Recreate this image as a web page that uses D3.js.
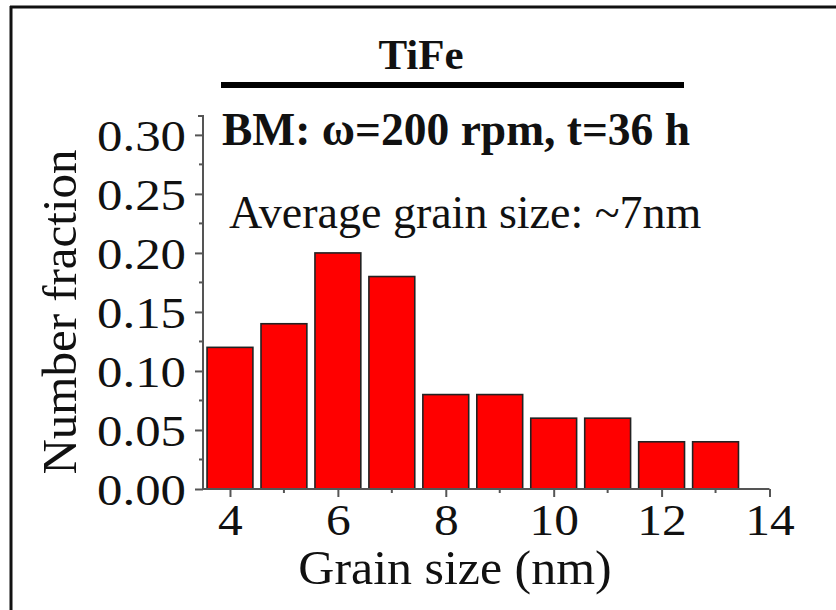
<!DOCTYPE html>
<html>
<head>
<meta charset="utf-8">
<script src="https://cdn.jsdelivr.net/npm/d3@7"></script>
<style>
  html, body { margin: 0; padding: 0; background: #fff; }
  svg { display: block; }
  text { font-family: "Liberation Serif", "Times New Roman", serif; fill: #111; }
</style>
</head>
<body>
<svg id="chart" width="836" height="610"></svg>
<script>
// ---- data ----
const grainSizes = [4, 5, 6, 7, 8, 9, 10, 11, 12, 13];
const fractions  = [0.12, 0.14, 0.20, 0.18, 0.08, 0.08, 0.06, 0.06, 0.04, 0.04];
const xTicks = [4, 6, 8, 10, 12, 14];
const xMinorTicks = [5, 7, 9, 11, 13];
const yTicks = [0.00, 0.05, 0.10, 0.15, 0.20, 0.25, 0.30];
const yMinorTicks = [0.025, 0.075, 0.125, 0.175, 0.225, 0.275];
const titleText = "TiFe";
const conditionText = "BM: ω=200 rpm, t=36 h";
const avgText = "Average grain size: ~7nm";
const xLabel = "Grain size (nm)";
const yLabel = "Number fraction";

const svg = d3.select("#chart");
const axisColor = "#555";

const x = d3.scaleLinear().domain([3.5, 14]).range([203, 769.5]);
const y = d3.scaleLinear().domain([0, 0.316]).range([489, 116]);
const barW = x(4.85) - x(4);

// stretch text horizontally (reference glyphs are slightly wide)
function stretch(sel, k) {
  sel.each(function () {
    const w = this.getComputedTextLength();
    d3.select(this).attr("textLength", w * k).attr("lengthAdjust", "spacingAndGlyphs");
  });
}

// frame (cropped figure border)
svg.append("line").attr("x1", 11).attr("x2", 11).attr("y1", 6).attr("y2", 610)
  .attr("stroke", "#111").attr("stroke-width", 3);
svg.append("line").attr("x1", 10).attr("x2", 836).attr("y1", 7).attr("y2", 7)
  .attr("stroke", "#111").attr("stroke-width", 3);

// bars
svg.append("g").selectAll("rect").data(grainSizes).join("rect")
  .attr("x", (d) => x(d) - barW / 2)
  .attr("width", barW)
  .attr("y", (d, i) => y(fractions[i]))
  .attr("height", (d, i) => y(0) - y(fractions[i]))
  .attr("fill", "#ff0000")
  .attr("stroke", "#222")
  .attr("stroke-width", 1.6);

// x axis
const xAxis = svg.append("g").attr("transform", `translate(0,${y(0)})`)
  .call(d3.axisBottom(x).tickValues(xTicks).tickSize(8).tickPadding(5).tickFormat(d3.format("d")));
xAxis.select(".domain").attr("stroke", axisColor).attr("stroke-width", 2)
  .attr("d", `M${x(3.5)},0H${x(14)}`);
xAxis.selectAll(".tick line").attr("stroke", axisColor).attr("stroke-width", 2);
xAxis.selectAll(".tick text").attr("font-size", 45).attr("font-family", "Liberation Serif").attr("fill", "#111")
  .attr("dy", "0.74em").call(stretch, 1.1);
svg.append("g").selectAll("line").data(xMinorTicks).join("line")
  .attr("x1", (d) => x(d)).attr("x2", (d) => x(d))
  .attr("y1", y(0)).attr("y2", y(0) + 4)
  .attr("stroke", axisColor).attr("stroke-width", 2);

// y axis
const yAxis = svg.append("g").attr("transform", `translate(${x(3.5)},0)`)
  .call(d3.axisLeft(y).tickValues(yTicks).tickSize(8).tickPadding(9).tickFormat(d3.format(".2f")));
yAxis.select(".domain").attr("stroke", axisColor).attr("stroke-width", 2)
  .attr("d", `M-5,${y(0.316)}H0V${y(0)}`);
yAxis.selectAll(".tick line").attr("stroke", axisColor).attr("stroke-width", 2);
yAxis.selectAll(".tick text").attr("font-size", 45).attr("font-family", "Liberation Serif").attr("fill", "#111")
  .attr("dy", "0.34em").call(stretch, 1.13);
svg.append("g").selectAll("line").data(yMinorTicks).join("line")
  .attr("x1", x(3.5) - 4).attr("x2", x(3.5))
  .attr("y1", (d) => y(d)).attr("y2", (d) => y(d))
  .attr("stroke", axisColor).attr("stroke-width", 2);

// axis labels
svg.append("text").attr("x", 455).attr("y", 584).attr("text-anchor", "middle")
  .attr("font-size", 48).text(xLabel).call(stretch, 1.04);
svg.append("text").attr("transform", "translate(76,312) rotate(-90)").attr("text-anchor", "middle")
  .attr("font-size", 49).text(yLabel);

// title and annotations
svg.append("text").attr("x", 421).attr("y", 69).attr("text-anchor", "middle")
  .attr("font-size", 43).attr("font-weight", "bold").text(titleText);
svg.append("line").attr("x1", 221).attr("x2", 684).attr("y1", 85).attr("y2", 85)
  .attr("stroke", "#000").attr("stroke-width", 6);
svg.append("text").attr("x", 222).attr("y", 145)
  .attr("font-size", 45.5).attr("font-weight", "bold").text(conditionText);
svg.append("text").attr("x", 229).attr("y", 228)
  .attr("font-size", 46).text(avgText);
</script>
</body>
</html>
